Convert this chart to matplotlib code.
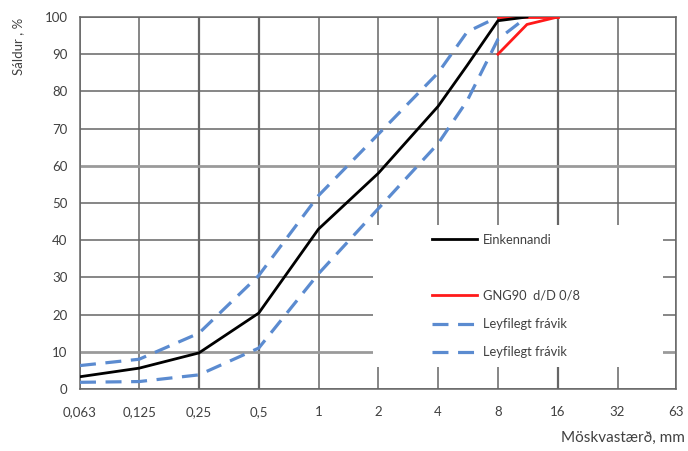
import numpy as np
import matplotlib
matplotlib.use("Agg")
import matplotlib.pyplot as plt
from matplotlib.lines import Line2D
from matplotlib.patches import Rectangle

plt.rcParams['font.family'] = ['Lato', 'DejaVu Sans']

# sieve sizes (mm) and tick labels
sieves = [0.063, 0.125, 0.25, 0.5, 1, 2, 4, 8, 16, 32, 63]
sieve_labels = ['0,063', '0,125', '0,25', '0,5', '1', '2', '4', '8', '16', '32', '63']
yticks = list(range(0, 101, 10))

# typical grading (Einkennandi)
typ_x = [0.063, 0.125, 0.25, 0.5, 1, 2, 4, 5.6, 8, 11.2]
typ_y = [3.3, 5.6, 9.7, 20.4, 43, 58, 76, 87, 99, 100]

# GNG90 d/D 0/8 envelope
gng_x = [8, 11.2, 16]
gng_y = [90, 98, 100]
gng_top_x = [8, 16]
gng_top_y = [100, 100]

# allowed deviations (Leyfilegt frávik)
upper_x = [0.063, 0.125, 0.25, 0.5, 1, 2, 4, 5.6, 8]
upper_y = [6.3, 8.0, 15, 30.5, 52, 68.5, 85, 96, 100]
lower_x = [0.063, 0.125, 0.25, 0.5, 1, 2, 4, 5.6, 8, 11.2]
lower_y = [1.8, 2.0, 3.8, 11, 31, 48.5, 66, 77.5, 94, 100]

blue = '#5b8bd0'
gridc = '#666666'
txtc = '#404040'
dash = (0, (5, 3))

fig = plt.figure(figsize=(6.88, 4.51), dpi=100)
ax = fig.add_axes([80/688, 1-389/451, 596/688, 372/451])

ax.set_xscale('log', base=2)
ax.set_xlim(0.063, 63)
ax.set_ylim(0, 100)
ax.set_xticks(sieves)
ax.set_xticklabels(sieve_labels)
ax.minorticks_off()
ax.set_yticks(yticks)
ax.tick_params(length=0, labelsize=9.5, labelcolor=txtc)
ax.tick_params(axis='x', pad=12)
ax.tick_params(axis='y', pad=9)

ax.set_axisbelow(True)
ax.grid(True, color=gridc, linewidth=1.1)
# a few grid lines are drawn heavier / lighter in the original
for gl, v in zip(ax.get_ygridlines(), yticks):
    if v in (10, 60):
        gl.set_color('#9a9a9a')
        gl.set_linewidth(2.0)
for gl, v in zip(ax.get_xgridlines(), sieves):
    if v in (0.25, 0.5, 16):
        gl.set_linewidth(1.6)
for s in ax.spines.values():
    s.set_color(gridc)
    s.set_linewidth(1.1)

# white box behind legend
ax.add_patch(Rectangle((0.492, 0.06), 0.487, 0.382, transform=ax.transAxes,
                       facecolor='white', edgecolor='none', zorder=1))

ax.plot(upper_x, upper_y, color=blue, lw=2.3, ls=dash, zorder=3)
ax.plot(lower_x, lower_y, color=blue, lw=2.3, ls=dash, zorder=3)
ax.plot(gng_x, gng_y, color='#ff1a1a', lw=2.0, zorder=4)
ax.plot(gng_top_x, gng_top_y, color='#ff1a1a', lw=2.0, zorder=4)
ax.plot(typ_x, typ_y, color='black', lw=2.0, zorder=5)

handles = [
    Line2D([], [], color='black', lw=2.0),
    Line2D([], [], color='none'),
    Line2D([], [], color='#ff1a1a', lw=2.0),
    Line2D([], [], color=blue, lw=2.3, ls=dash),
    Line2D([], [], color=blue, lw=2.3, ls=dash),
]
labels = ['Einkennandi', ' ', 'GNG90  d/D 0/8', 'Leyfilegt frávik', 'Leyfilegt frávik']
leg = ax.legend(handles, labels, loc='upper left', bbox_to_anchor=(0.58, 0.435),
                frameon=False, fontsize=9.3, handlelength=3.5, handletextpad=0.4,
                labelspacing=1.25, borderpad=0)
for t in leg.get_texts():
    t.set_color(txtc)

fig.text(18/688, 1-46/451, 'Sáldur , %', rotation=90, ha='center', va='center',
         fontsize=9.5, color=txtc)
fig.text(685/688, 1-438/451, 'Möskvastærð, mm', ha='right', va='center',
         fontsize=11, color=txtc)

fig.savefig('out.png', dpi=100)
